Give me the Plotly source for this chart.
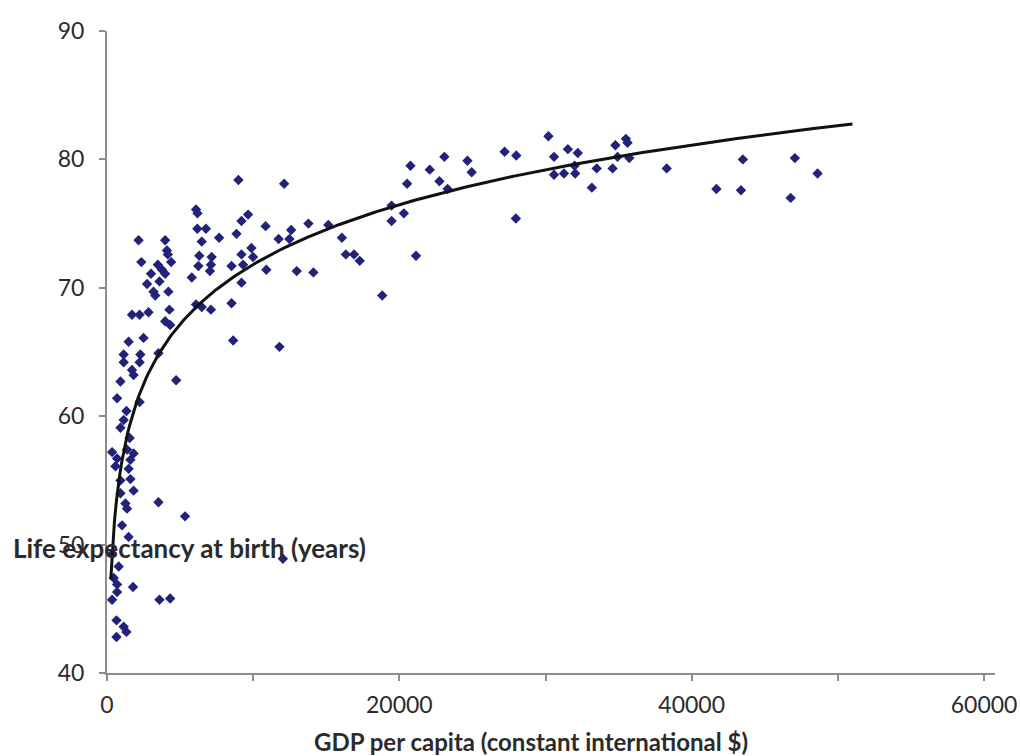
import numpy as np
import plotly.graph_objects as go

# GDP per capita (constant international $) for each country
gdp = [
    27200, 28000, 30200, 30580, 31530, 32210, 30580, 31260, 31990, 32030,
    33170, 33500, 34590, 34780, 35500, 35610, 34930, 35730, 27970, 38290,
    41690, 43500, 43370, 47060, 46770, 48610,
    20760, 23080, 24660, 22080, 24950, 20530, 22740, 23300, 19470, 20310,
    19470, 15140, 16070, 16340, 16900, 17290, 21140, 18830,
    8990, 12120, 6090, 6190, 6180, 6770, 6480, 7670, 8860, 9200,
    9650, 10850, 12600, 13780, 11740, 12480, 9880, 9200, 9990, 6310,
    7160, 6250, 7110, 7040, 8520, 9310, 10900, 12980, 14120, 5800,
    9200, 6090, 6480, 7110, 8520, 8630, 11800, 12030,
    2160, 3980, 4100, 4160, 2350, 4390, 3480, 3760, 3010, 3980,
    3590, 2740, 3180, 4200, 3300, 4270, 1710, 2230, 2840, 3980,
    4320, 1480, 2500,
    1140, 2280, 3520, 1140, 2230, 1710, 1820, 920, 4730, 690,
    2230, 1330, 1140, 920, 1550, 350, 1370, 1820, 690, 1600,
    580,
    1480, 1600, 920, 1820, 920, 1260, 1370, 3520, 5340, 1030,
    1480, 800, 460, 370,
    690, 1780, 690, 350, 3590, 4320, 650, 1140, 1330, 650,
]

# Life expectancy at birth (years) for the same countries
life_exp = [
    80.6, 80.3, 81.8, 80.2, 80.8, 80.5, 78.8, 78.9, 79.5, 78.9,
    77.8, 79.3, 79.3, 81.1, 81.6, 81.3, 80.2, 80.1, 75.4, 79.3,
    77.7, 80.0, 77.6, 80.1, 77.0, 78.9,
    79.5, 80.2, 79.9, 79.2, 79.0, 78.1, 78.3, 77.7, 76.4, 75.8,
    75.2, 74.9, 73.9, 72.6, 72.6, 72.1, 72.5, 69.4,
    78.4, 78.1, 76.1, 75.8, 74.6, 74.6, 73.6, 73.9, 74.2, 75.2,
    75.7, 74.8, 74.5, 75.0, 73.8, 73.8, 73.1, 72.6, 72.4, 72.5,
    72.4, 71.7, 71.8, 71.3, 71.7, 71.8, 71.4, 71.3, 71.2, 70.8,
    70.4, 68.7, 68.5, 68.3, 68.8, 65.9, 65.4, 48.9,
    73.7, 73.7, 72.9, 72.6, 72.0, 72.0, 71.8, 71.4, 71.1, 71.1,
    70.5, 70.3, 69.7, 69.7, 69.4, 68.3, 67.9, 67.9, 68.1, 67.4,
    67.1, 65.8, 66.1,
    64.8, 64.8, 64.9, 64.2, 64.2, 63.6, 63.2, 62.7, 62.8, 61.4,
    61.1, 60.4, 59.7, 59.1, 58.3, 57.2, 57.4, 57.1, 56.7, 56.6,
    56.1,
    55.9, 55.1, 55.0, 54.2, 54.0, 53.2, 52.8, 53.3, 52.2, 51.5,
    50.6, 48.3, 47.4, 49.3,
    46.9, 46.7, 46.3, 45.7, 45.7, 45.8, 44.1, 43.6, 43.2, 42.8,
]

x_ticks = [0, 10000, 20000, 30000, 40000, 50000, 60000]
x_tick_text = ["0", "", "20000", "", "40000", "", "60000"]
y_ticks = [40, 50, 60, 70, 80, 90]

# Logarithmic trend line fitted to the scatter
gdp_arr = np.array(gdp, dtype=float)
le_arr = np.array(life_exp, dtype=float)
slope, intercept = np.polyfit(np.log(gdp_arr), le_arr, 1)
trend_x = np.linspace(260, 51000, 400)
trend_y = slope * np.log(trend_x) + intercept

fig = go.Figure()
fig.add_trace(go.Scatter(
    x=gdp, y=life_exp, mode="markers",
    marker=dict(symbol="diamond", size=8, color="#22227a", line=dict(width=0)),
    showlegend=False,
))
fig.add_trace(go.Scatter(
    x=trend_x, y=trend_y, mode="lines",
    line=dict(color="#111111", width=3),
    showlegend=False,
))

axis_grey = "#8c8c8c"
text_col = "#2b2b2b"
fig.update_layout(
    width=1020, height=756,
    margin=dict(l=106.5, r=25, t=31, b=83),
    paper_bgcolor="white", plot_bgcolor="white",
    font=dict(family="Lato", color=text_col),
    xaxis=dict(
        range=[0, 60750], tickvals=x_ticks, ticktext=x_tick_text,
        showgrid=False, zeroline=False, showline=True,
        linecolor=axis_grey, linewidth=2,
        ticks="outside", ticklen=6, tickwidth=2, tickcolor=axis_grey,
        tickfont=dict(size=23, family="Lato", color=text_col),
        ticklabelstandoff=4, ticklabeloverflow="allow", automargin=False,
    ),
    yaxis=dict(
        range=[40, 90], tickvals=y_ticks,
        showgrid=False, zeroline=False, showline=True,
        linecolor=axis_grey, linewidth=2,
        ticks="outside", ticklen=6, tickwidth=2, tickcolor=axis_grey,
        tickfont=dict(size=23, family="Lato", color=text_col),
        ticklabelstandoff=10, ticklabeloverflow="allow", automargin=False,
    ),
    annotations=[
        dict(text="<b>Life expectancy at birth (years)</b>",
             xref="paper", yref="paper", x=-0.1084, y=0.1947,
             xanchor="left", yanchor="middle", showarrow=False,
             font=dict(size=26, family="Lato", color=text_col)),
        dict(text="<b>GDP per capita (constant international $)</b>",
             xref="paper", yref="paper", x=0.477, y=-0.107,
             xanchor="center", yanchor="middle", showarrow=False,
             font=dict(size=24, family="Lato", color=text_col)),
    ],
)

fig.write_html("out.html")
